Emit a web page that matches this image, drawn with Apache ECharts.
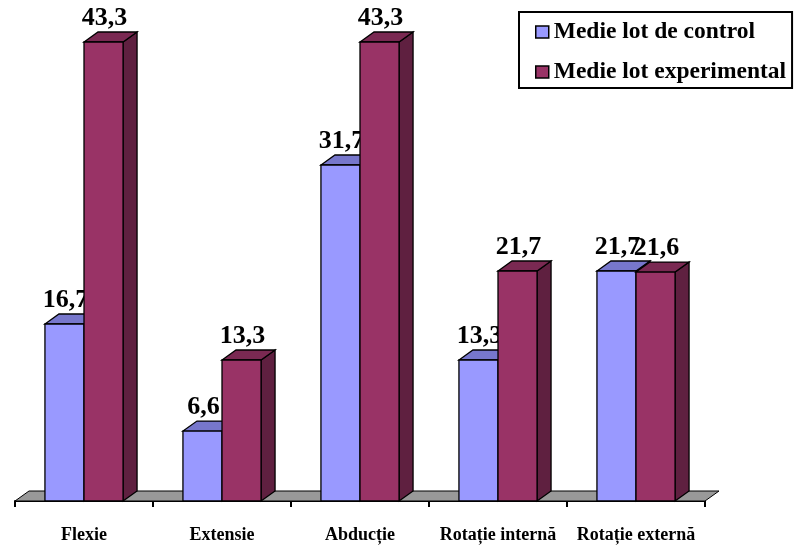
<!DOCTYPE html>
<html>
<head>
<meta charset="utf-8">
<script src="https://cdn.jsdelivr.net/npm/echarts@6/dist/echarts.min.js"></script>
<style>
  html, body { margin: 0; padding: 0; background: #fff; }
  #main { width: 794px; height: 545px; }
</style>
</head>
<body>
<div id="main"></div>
<script>
var categories = ['Flexie', 'Extensie', 'Abducție', 'Rotație internă', 'Rotație externă'];
var controlValues = [16.7, 6.6, 31.7, 13.3, 21.7];
var experimentalValues = [43.3, 13.3, 43.3, 21.7, 21.6];
var seriesNames = ['Medie lot de control', 'Medie lot experimental'];

var FONT = '"Liberation Serif", "Times New Roman", serif';
var DX = 14, DY = 10; // adancimea 3D

var chart = echarts.init(document.getElementById('main'));

// bara 3D: fata, capac, lateral + eticheta
function bar3d(idx, front, top, side) {
  return function (params, api) {
    var cat = api.value(0);
    var val = api.value(1);
    var base = api.coord([cat, 0]);
    var tip = api.coord([cat, val]);
    var band = api.size([1, 0])[0];
    var w = band * 0.283;
    var x0 = idx === 0 ? base[0] - w : base[0];
    var ty = tip[1], by = base[1];
    var stroke = { stroke: '#000', lineWidth: 1.3 };
    return {
      type: 'group',
      children: [
        { type: 'polygon', shape: { points: [[x0 + w, ty], [x0 + w + DX, ty - DY], [x0 + w + DX, by - DY], [x0 + w, by]] },
          style: Object.assign({ fill: side }, stroke) },
        { type: 'polygon', shape: { points: [[x0, ty], [x0 + w, ty], [x0 + w + DX, ty - DY], [x0 + DX, ty - DY]] },
          style: Object.assign({ fill: top }, stroke) },
        { type: 'rect', shape: { x: x0, y: ty, width: w, height: by - ty },
          style: Object.assign({ fill: front }, stroke) },
        { type: 'text', x: x0 + w / 2 + 1, y: ty - 11,
          style: { text: val.toFixed(1).replace('.', ','), fill: '#000', align: 'center', verticalAlign: 'bottom',
                   fontSize: 26, fontWeight: 'bold', fontFamily: FONT } }
      ]
    };
  };
}

function toData(arr) {
  return arr.map(function (v, i) { return [i, v]; });
}

chart.setOption({
  backgroundColor: '#ffffff',
  animation: false,
  grid: { left: 15, right: 89, top: 24, bottom: 44 },
  legend: {
    data: seriesNames,
    orient: 'vertical',
    left: 519,
    top: 12,
    padding: [8, 6, 4, 16],
    itemGap: 16,
    itemWidth: 13,
    itemHeight: 12,
    icon: 'rect',
    borderColor: '#000',
    borderWidth: 2,
    backgroundColor: '#fff',
    itemStyle: { borderColor: '#000', borderWidth: 1.5 },
    textStyle: { fontSize: 23.5, fontWeight: 'bold', fontFamily: FONT, color: '#000' }
  },
  xAxis: {
    type: 'category',
    data: categories,
    boundaryGap: true,
    axisLine: { lineStyle: { color: '#000', width: 2 } },
    axisTick: { show: true, length: 6, lineStyle: { color: '#000', width: 2 } },
    axisLabel: { margin: 25, color: '#000', fontSize: 18, fontWeight: 'bold', fontFamily: FONT, interval: 0 }
  },
  yAxis: {
    type: 'value',
    min: 0,
    max: 45,
    show: false,
    splitLine: { show: false }
  },
  series: [
    {
      name: 'podea',
      type: 'custom',
      clip: false,
      silent: true,
      data: [[0]],
      renderItem: function (params, api) {
        var cs = params.coordSys;
        var y = cs.y + cs.height;
        return {
          type: 'polygon',
          shape: { points: [[cs.x, y], [cs.x + cs.width, y], [cs.x + cs.width + DX, y - DY], [cs.x + DX, y - DY]] },
          style: { fill: '#999999', stroke: '#000', lineWidth: 1 }
        };
      }
    },
    {
      name: seriesNames[0],
      type: 'custom',
      clip: false,
      itemStyle: { color: '#9999FF' },
      data: toData(controlValues),
      renderItem: bar3d(0, '#9999FF', '#7777CC', '#5C5C99')
    },
    {
      name: seriesNames[1],
      type: 'custom',
      clip: false,
      itemStyle: { color: '#993366' },
      data: toData(experimentalValues),
      renderItem: bar3d(1, '#993366', '#7A2952', '#5F2040')
    }
  ]
});
</script>
</body>
</html>
